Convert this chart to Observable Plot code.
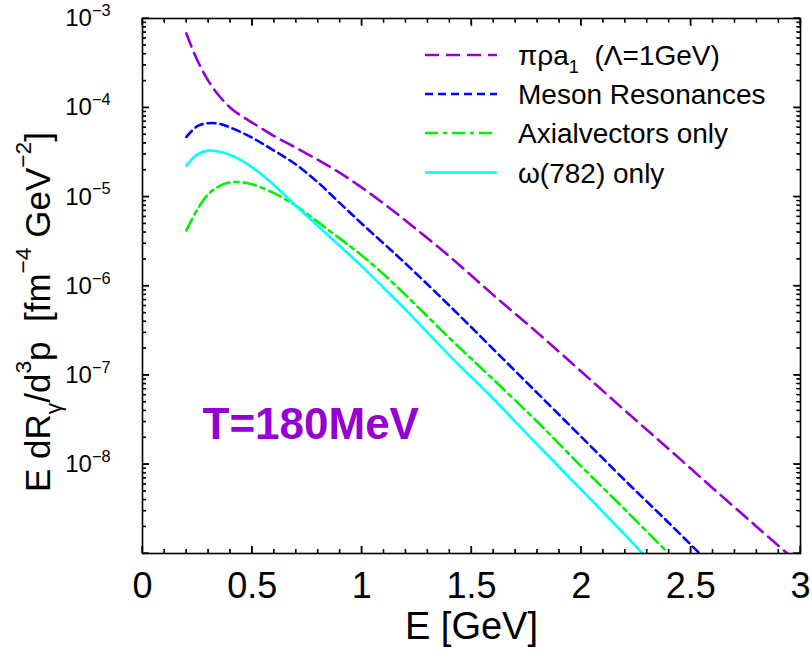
<!DOCTYPE html>
<html><head><meta charset="utf-8">
<script src="https://cdn.jsdelivr.net/npm/d3@7"></script>
<script src="https://cdn.jsdelivr.net/npm/@observablehq/plot@0.6"></script>
<style>
body{margin:0;background:#fff;}
#chart{position:relative;width:812px;height:663px;}
</style></head><body><div id="chart"></div>
<script>
// ---- data ----
const seriesNames = ["πρa1 (Λ=1GeV)", "Meson Resonances", "Axialvectors only", "ω(782) only"];

const E_pra1 = [0.2,0.25,0.3,0.35,0.4,0.45,0.5,0.6,0.7,0.8,0.9,1.0,1.1,1.2,1.4,1.6,1.8,2.0,2.2,2.4,2.6,2.8,2.94];
const R_pra1 = [6.8e-4,3.4e-4,2.0e-4,1.35e-4,1.0e-4,8.1e-5,6.8e-5,4.8e-5,3.55e-5,2.6e-5,1.86e-5,1.27e-5,8.4e-6,5.4e-6,2.14e-6,7.9e-7,3.0e-7,1.1e-7,4.0e-8,1.48e-8,5.4e-9,2.0e-9,1.0e-9];

const E_meson = [0.2,0.25,0.3,0.35,0.4,0.5,0.6,0.7,0.8,0.9,1.0,1.2,1.4,1.6,1.8,2.0,2.2,2.4,2.54];
const R_meson = [4.7e-5,6.2e-5,6.7e-5,6.6e-5,6.0e-5,4.6e-5,3.3e-5,2.3e-5,1.45e-5,8.5e-6,5.0e-6,1.78e-6,6.0e-7,1.95e-7,6.3e-8,2.04e-8,6.6e-9,2.2e-9,1.0e-9];

const E_axial = [0.2,0.25,0.3,0.35,0.4,0.45,0.5,0.6,0.7,0.8,0.9,1.0,1.1,1.2,1.4,1.6,1.8,2.0,2.2,2.39];
const R_axial = [4.2e-6,7.2e-6,1.07e-5,1.32e-5,1.45e-5,1.46e-5,1.38e-5,1.1e-5,7.9e-6,5.2e-6,3.4e-6,2.2e-6,1.35e-6,7.9e-7,2.6e-7,8.9e-8,3.0e-8,9.5e-9,3.1e-9,1.05e-9];

const E_omega = [0.2,0.25,0.3,0.35,0.4,0.45,0.5,0.6,0.7,0.8,0.9,1.0,1.1,1.2,1.4,1.6,1.8,2.0,2.2,2.28];
const R_omega = [2.24e-5,3.0e-5,3.3e-5,3.2e-5,2.95e-5,2.57e-5,2.14e-5,1.35e-5,7.9e-6,4.7e-6,2.8e-6,1.66e-6,9.5e-7,5.4e-7,1.66e-7,5.4e-8,1.66e-8,5.2e-9,1.62e-9,1.0e-9];

const xTickValues = [0, 0.5, 1, 1.5, 2, 2.5, 3];
const yTickExponents = [-3, -4, -5, -6, -7, -8];

// ---- styles ----
const styles = [
  {color: "#9400d3", dash: "14,7"},
  {color: "#0000ff", dash: "8,5"},
  {color: "#00f000", dash: "13,5,4,5"},
  {color: "#00ffff", dash: null}
];

const xs = [E_pra1, E_meson, E_axial, E_omega];
const ys = [R_pra1, R_meson, R_axial, R_omega];
const rows = seriesNames.flatMap((s, i) => xs[i].map((e, j) => ({series: s, E: e, R: ys[i][j]})));

const yDomain = [1e-9, 1e-3];
const yAllTicks = d3.scaleLog().domain(yDomain).ticks();
const yMajor = yAllTicks.filter(v => Math.abs(Math.log10(v) - Math.round(Math.log10(v))) < 1e-9);
const yMinor = yAllTicks.filter(v => !yMajor.includes(v));
const yLabelTicks = yTickExponents.map(k => Math.pow(10, k));
const xAllTicks = d3.ticks(0, 3, 30);
const xMinor = xAllTicks.filter(v => Math.abs(v * 2 - Math.round(v * 2)) > 1e-6);

const FONT = "'Liberation Sans', Arial, Helvetica, sans-serif";
const blank = () => "";

const marks = [];
seriesNames.forEach((s, i) => {
  marks.push(Plot.line(rows.filter(r => r.series === s), {
    x: "E", y: "R", stroke: styles[i].color, strokeWidth: 2.6,
    strokeDasharray: styles[i].dash, curve: "catmull-rom", clip: true
  }));
});
// inward ticks (Plot axis marks)
for (const anchor of ["bottom", "top"]) {
  marks.push(Plot.axisX(xTickValues, {anchor, tickSize: 7, inset: 7, tickFormat: blank, label: null, strokeWidth: 1.3}));
  marks.push(Plot.axisX(xMinor, {anchor, tickSize: 4, inset: 4, tickFormat: blank, label: null, strokeWidth: 1.1}));
}
for (const anchor of ["left", "right"]) {
  marks.push(Plot.axisY(yMajor, {anchor, tickSize: 7, inset: 7, tickFormat: blank, label: null, strokeWidth: 1.3}));
  marks.push(Plot.axisY(yMinor, {anchor, tickSize: 4, inset: 4, tickFormat: blank, label: null, strokeWidth: 1.1}));
}
marks.push(Plot.axisX(xTickValues, {anchor: "bottom", tickSize: 0, tickPadding: 19, fontSize: 36, label: null, tickFormat: d => String(d)}));
marks.push(Plot.axisY(yLabelTicks, {anchor: "left", tickSize: 0, tickPadding: 32, fontSize: 24, label: null,
  tickFormat: d => "10^−" + Math.round(-Math.log10(d))}));
marks.push(Plot.text(["E [GeV]"], {frameAnchor: "bottom", dy: 85, fontSize: 38, fill: "black"}));
marks.push(Plot.text(["T=180MeV"], {frameAnchor: "bottom-left", dx: 60, dy: -115, textAnchor: "start",
  fontSize: 44, fontWeight: "bold", fill: "#9400d3"}));
marks.push(Plot.frame({stroke: "black", strokeWidth: 1.6}));

const svg = Plot.plot({
  width: 812, height: 663,
  marginLeft: 142, marginRight: 12, marginTop: 18, marginBottom: 110,
  x: {domain: [0, 3]},
  y: {type: "log", domain: yDomain},
  style: {fontFamily: FONT, color: "black", background: "white", overflow: "visible"},
  marks
});
document.getElementById("chart").appendChild(svg);

const S = d3.select(svg);

// backup inward ticks placed with Plot's own scales
try {
  const sx = svg.scale("x"), sy = svg.scale("y");
  const [x0, x1] = d3.extent(sx.range);
  const [y0, y1] = d3.extent(sy.range);
  const tg = S.append("g").attr("stroke", "#000").attr("fill", "none");
  const xTick = (v, len, w) => {
    const px = sx.apply(v);
    tg.append("line").attr("x1", px).attr("x2", px).attr("y1", y1).attr("y2", y1 - len).attr("stroke-width", w);
    tg.append("line").attr("x1", px).attr("x2", px).attr("y1", y0).attr("y2", y0 + len).attr("stroke-width", w);
  };
  const yTick = (v, len, w) => {
    const py = sy.apply(v);
    tg.append("line").attr("y1", py).attr("y2", py).attr("x1", x0).attr("x2", x0 + len).attr("stroke-width", w);
    tg.append("line").attr("y1", py).attr("y2", py).attr("x1", x1).attr("x2", x1 - len).attr("stroke-width", w);
  };
  xTickValues.forEach(v => xTick(v, 7, 1.3));
  xMinor.forEach(v => xTick(v, 4, 1.1));
  yMajor.forEach(v => yTick(v, 7, 1.3));
  yMinor.forEach(v => yTick(v, 4, 1.1));
} catch (e) {}

// superscript exponents on y tick labels
S.selectAll('g[aria-label="y-axis tick label"] text').each(function () {
  const t = this.textContent;
  if (!t.includes("^")) return;
  const [base, exp] = t.split("^");
  const el = d3.select(this);
  el.text(null);
  el.append("tspan").text(base);
  el.append("tspan").attr("dy", "-0.62em").attr("font-size", "0.68em").text(exp);
});

// text with sub/superscripts
function richText(sel, parts) {
  let shift = 0;
  for (const p of parts) {
    const target = p.sup ? -0.55 : p.sub ? 0.3 : 0;
    const fs = (p.sup || p.sub) ? 0.65 : 1;
    const d = (target - shift);
    const ts = sel.append("tspan").text(p.t);
    if (fs !== 1) ts.attr("font-size", fs + "em");
    if (d !== 0) ts.attr("dy", (d / fs).toFixed(3) + "em");
    shift = target;
  }
}
const yTitle = S.append("text")
  .attr("transform", "translate(50,312) rotate(-90)")
  .attr("text-anchor", "middle")
  .attr("font-size", 35)
  .attr("font-family", FONT)
  .attr("fill", "black")
  .style("white-space", "pre");
richText(yTitle, [
  {t: "E dR"}, {t: "γ", sub: true}, {t: "/d"}, {t: "3", sup: true},
  {t: "p  [fm"}, {t: "−4", sup: true}, {t: " GeV"}, {t: "−2", sup: true}, {t: "]"}
]);

// legend
const legendRows = [55, 94, 133, 172.5];
const lg = S.append("g").attr("font-family", FONT).attr("font-size", 28).attr("text-anchor", "start");
seriesNames.forEach((s, i) => {
  lg.append("line").attr("x1", 425).attr("x2", 497).attr("y1", legendRows[i]).attr("y2", legendRows[i])
    .attr("stroke", styles[i].color).attr("stroke-width", 2.6)
    .attr("stroke-dasharray", styles[i].dash);
  const t = lg.append("text").attr("x", 518).attr("y", legendRows[i]).attr("dy", "0.36em")
    .attr("text-anchor", "start").attr("fill", "black").style("white-space", "pre");
  if (i === 0) {
    richText(t, [{t: "πρa"}, {t: "1", sub: true}, {t: "  (Λ=1GeV)"}]);
  } else {
    t.text(s);
  }
});
</script></body></html>
